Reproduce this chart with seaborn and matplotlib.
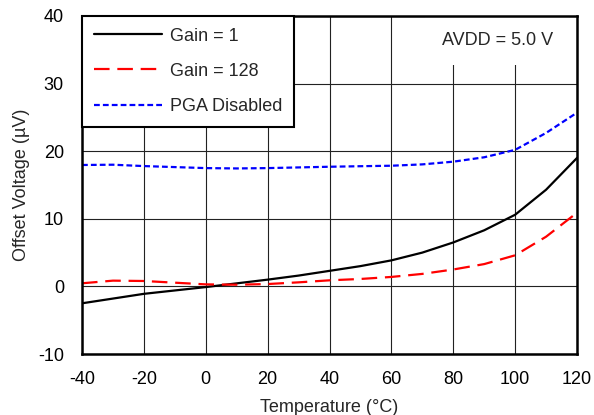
import numpy as np
import pandas as pd
import matplotlib
matplotlib.use("Agg")
import matplotlib.pyplot as plt
import seaborn as sns

# values
temp = [-40, -30, -20, -10, 0, 10, 20, 30, 40, 50, 60, 70, 80, 90, 100, 110, 120]
gain_1 = [-2.5, -1.8, -1.1, -0.6, -0.1, 0.45, 1.0, 1.6, 2.3, 3.0, 3.85, 5.0, 6.5, 8.3, 10.6, 14.3, 19.0]
gain_128 = [0.46, 0.85, 0.8, 0.55, 0.3, 0.25, 0.35, 0.6, 0.9, 1.1, 1.4, 1.85, 2.5, 3.3, 4.6, 7.35, 10.9]
pga_disabled = [17.96, 18.0, 17.8, 17.65, 17.5, 17.45, 17.5, 17.6, 17.7, 17.78, 17.85, 18.05, 18.45, 19.1, 20.2, 22.7, 25.7]

df = pd.DataFrame({"Temperature": temp * 3,
                   "Offset": gain_1 + gain_128 + pga_disabled,
                   "Series": ["Gain = 1"] * len(temp) + ["Gain = 128"] * len(temp)
                             + ["PGA Disabled"] * len(temp)})

sns.set_style("white")
plt.rcParams['font.family'] = ['Liberation Sans', 'DejaVu Sans']
plt.rcParams['axes.unicode_minus'] = False

fig = plt.figure(figsize=(5.94, 4.15), dpi=100)
ax = fig.add_axes([82 / 594, 1 - 354 / 415, 495 / 594, 338 / 415])

styles = {"Gain = 1": ("black", "-"),
          "Gain = 128": ("#ff0000", (0, (7, 3.5))),
          "PGA Disabled": ("#0000ff", (0, (2.6, 1.4)))}
for name, (col, ls) in styles.items():
    sub = df[df["Series"] == name]
    sns.lineplot(data=sub, x="Temperature", y="Offset", ax=ax, color=col,
                 linestyle=ls, linewidth=1.6, label=name)

ax.set_xlim(-40, 120)
ax.set_ylim(-10, 40)
ax.set_xticks(range(-40, 121, 20))
ax.set_yticks(range(-10, 41, 10))
ax.grid(True, color="#222222", linewidth=0.8)
ax.tick_params(length=0, labelsize=13, colors="black")
ax.tick_params(axis="x", pad=12)
ax.tick_params(axis="y", pad=13)
for s in ax.spines.values():
    s.set_visible(True)
    s.set_color("black")
    s.set_linewidth(1.8)
    s.set_zorder(5)

ax.set_xlabel("Temperature (°C)", fontsize=13, labelpad=8)
ax.set_ylabel("Offset Voltage (µV)", fontsize=13, labelpad=6)

leg = ax.legend(loc="upper left", bbox_to_anchor=(0, 1), borderaxespad=0,
                fontsize=13, handlelength=3.8, labelspacing=1.0,
                borderpad=0.65, handletextpad=0.4, fancybox=False,
                framealpha=1, edgecolor="black")
leg.get_frame().set_linewidth(1.5)
leg.set_zorder(6)

ax.text(94.2, 36.4, "AVDD = 5.0 V", fontsize=13, ha="center", va="center",
        bbox=dict(facecolor="white", edgecolor="none", pad=12), zorder=4)

fig.savefig("out.png", dpi=100)
